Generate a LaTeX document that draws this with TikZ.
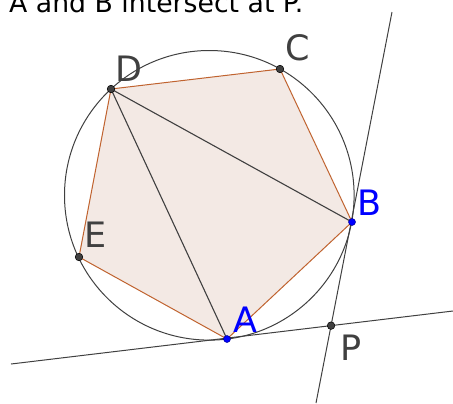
\documentclass[tikz,border=0pt]{standalone}
\usepackage{fontspec}
\setmainfont{DejaVu Sans}
\usepackage{tikz}
\usetikzlibrary{calc}
\definecolor{polyfill}{RGB}{243,233,228}
\definecolor{polyedge}{RGB}{192,99,47}
\definecolor{ggdark}{RGB}{64,64,64}

\begin{document}
\begin{tikzpicture}[x=1bp,y=-1bp,
  lbl/.style={anchor=base west, inner sep=0pt, font=\fontsize{35bp}{40bp}\selectfont, text=ggdark},
  dot/.style={fill=ggdark, draw=black, line width=0.5bp}]
\useasboundingbox (0,0) rectangle (453,403);
\coordinate (O) at (209.3,195.3);
\coordinate (A) at (227,339);
\coordinate (B) at (352,222);
\coordinate (C) at (280,69);
\coordinate (D) at (111,89);
\coordinate (E) at (79,257);
% ends of the two tangents
\coordinate (ta1) at (11,364);
\coordinate (ta2) at (453,311);
\coordinate (tb1) at (392,12);
\coordinate (tb2) at (316,403);
\coordinate (P) at (intersection of ta1--ta2 and tb1--tb2);
\node[anchor=base west, inner sep=0pt, font=\fontsize{26.7bp}{32bp}\selectfont] (title) at (9,12) {A and B intersect at P.};
\fill[polyfill] (A) -- (B) -- (C) -- (D) -- (E) -- cycle;
\draw[polyedge, line width=1bp] (A) -- (B) -- (C) -- (D) -- (E) -- cycle;
\draw[ggdark, line width=1bp] (O) circle [radius=144.8bp];
\draw[ggdark, line width=1.1bp] (D) -- (A);
\draw[ggdark, line width=1.1bp] (D) -- (B);
\draw[ggdark, line width=1bp] (ta1) -- (ta2);
\draw[ggdark, line width=1bp] (tb1) -- (tb2);
\filldraw[dot] (C) circle (3.8bp);
\filldraw[dot] (D) circle (3.8bp);
\filldraw[dot] (E) circle (3.8bp);
\filldraw[dot] (P) circle (3.8bp);
\filldraw[blue, draw=blue!60!black, line width=0.5bp] (A) circle (3.5bp);
\filldraw[blue, draw=blue!60!black, line width=0.5bp] (B) circle (3.5bp);
\node[lbl] (labD) at (115,81) {D};
\node[lbl] (labC) at (285,60) {C};
\node[lbl] (labE) at (84,247) {E};
\node[lbl, text=blue] (labB) at (357,215) {B};
\node[lbl, text=blue] (labA) at (233,332) {A};
\node[lbl] (labP) at (340,360) {P};
\end{tikzpicture}
\end{document}
